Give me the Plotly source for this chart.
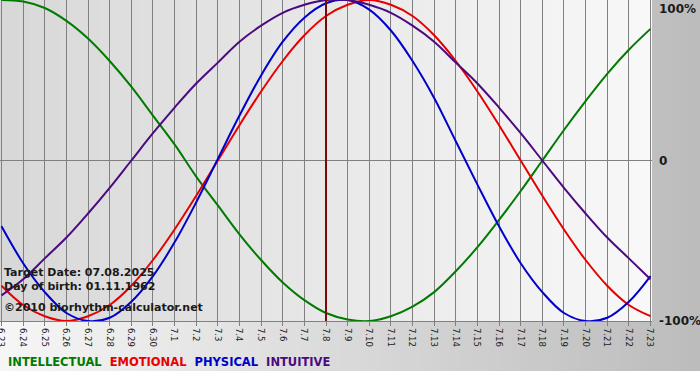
import plotly.graph_objects as go

# ---- data ----
day_labels = ['6.23', '6.24', '6.25', '6.26', '6.27', '6.28', '6.29', '6.30',
              '7.1', '7.2', '7.3', '7.4', '7.5', '7.6', '7.7', '7.8', '7.9',
              '7.10', '7.11', '7.12', '7.13', '7.14', '7.15', '7.16', '7.17',
              '7.18', '7.19', '7.20', '7.21', '7.22', '7.23']

intellectual = [1.00, 0.99, 0.95, 0.87, 0.76, 0.62, 0.46, 0.28, 0.10, -0.10,
                -0.28, -0.46, -0.62, -0.76, -0.87, -0.95, -0.99, -1.00, -0.97,
                -0.91, -0.82, -0.69, -0.54, -0.37, -0.19, 0.00, 0.19, 0.37,
                0.54, 0.69, 0.82]
emotional = [-0.78, -0.90, -0.97, -1.00, -0.97, -0.90, -0.78, -0.62, -0.43,
             -0.22, 0.00, 0.22, 0.43, 0.62, 0.78, 0.90, 0.97, 1.00, 0.97, 0.90,
             0.78, 0.62, 0.43, 0.22, 0.00, -0.22, -0.43, -0.62, -0.78, -0.90,
             -0.97]
physical = [-0.41, -0.64, -0.82, -0.95, -1.00, -0.98, -0.88, -0.72, -0.51,
            -0.26, 0.01, 0.28, 0.53, 0.74, 0.89, 0.98, 1.00, 0.94, 0.81, 0.62,
            0.39, 0.12, -0.15, -0.41, -0.64, -0.82, -0.95, -1.00, -0.98, -0.88,
            -0.72]
intuitive = [-0.84, -0.74, -0.61, -0.48, -0.33, -0.17, 0.00, 0.17, 0.33, 0.48,
             0.61, 0.74, 0.84, 0.92, 0.97, 1.00, 1.00, 0.97, 0.92, 0.84, 0.74,
             0.61, 0.48, 0.33, 0.17, 0.00, -0.17, -0.33, -0.48, -0.61, -0.74]

series_names = ['INTELLECTUAL', 'EMOTIONAL', 'PHYSICAL', 'INTUITIVE']
series_colors = ['#007a00', '#e60000', '#0000cc', '#4b0a7f']
series_values = [intellectual, emotional, physical, intuitive]

target_label = '7.8'
info_lines = ['Target Date: 07.08.2025', 'Day of birth: 01.11.1962',
              '©2010 biorhythm-calculator.net']
y_tick_vals = [1, 0, -1]
y_tick_text = ['100%', '0', '-100%']

# ---- geometry ----
W, H = 700, 380
ML, MR, MT, MB = 0, 48, 0, 59
PW = W - ML - MR
PH = H - MT - MB
x_idx = list(range(len(day_labels)))


def px_to_paper_x(px):
    return (px - ML) / PW


def py_to_paper_y(py):
    return (MT + PH - py) / PH


fig = go.Figure()
for name, color, vals in zip(series_names, series_colors, series_values):
    fig.add_trace(go.Scatter(x=x_idx, y=vals, mode='lines', name=name,
                             line=dict(color=color, width=2, shape='spline',
                                       smoothing=1.0),
                             cliponaxis=False, hoverinfo='skip'))

shapes = []
# outer background gradient (light left -> gray right)
n_out = 70
for i in range(n_out):
    x0 = i * W / n_out
    x1 = (i + 1) * W / n_out + 0.6
    t = i / (n_out - 1)
    c = int(round(246 - (246 - 188) * t))
    shapes.append(dict(type='rect', xref='paper', yref='paper',
                       x0=px_to_paper_x(x0), x1=px_to_paper_x(x1),
                       y0=py_to_paper_y(371), y1=py_to_paper_y(0),
                       fillcolor=f'rgb({c},{c},{c})', line=dict(width=0),
                       layer='below'))
# plot area gradient (gray left -> light right)
n_in = 65
for i in range(n_in):
    x0 = i * PW / n_in
    x1 = (i + 1) * PW / n_in + 0.6
    t = i / (n_in - 1)
    c = int(round(216 + (248 - 216) * t))
    shapes.append(dict(type='rect', xref='paper', yref='paper',
                       x0=px_to_paper_x(x0), x1=min(1.0, px_to_paper_x(x1)),
                       y0=0, y1=1,
                       fillcolor=f'rgb({c},{c},{c})', line=dict(width=0),
                       layer='below'))
# target date line
shapes.append(dict(type='line', xref='x', yref='paper',
                   x0=day_labels.index(target_label),
                   x1=day_labels.index(target_label),
                   y0=0, y1=1, line=dict(color='#7a0a0a', width=2),
                   layer='above'))

annotations = []
# info text inside plot
info_y = [272, 286, 307]
for txt, py in zip(info_lines, info_y):
    annotations.append(dict(text=f'<b>{txt}</b>', xref='paper', yref='paper',
                            x=px_to_paper_x(2), y=py_to_paper_y(py),
                            xanchor='left', yanchor='middle', showarrow=False,
                            font=dict(family='DejaVu Sans', size=11,
                                      color='#1a1a1a')))
# y-axis labels on the right
for v, txt in zip(y_tick_vals, y_tick_text):
    annotations.append(dict(text=f'<b>{txt}</b>', xref='paper', yref='y',
                            x=1, xshift=5, y=v, xanchor='left',
                            yanchor='top' if v == 1 else 'middle',
                            showarrow=False,
                            font=dict(family='DejaVu Sans', size=12,
                                      color='#1a1a1a')))
# legend row
legend_html = '  '.join(f'<span style="color:{c}">{n}</span>'
                        for n, c in zip(series_names, series_colors))
annotations.append(dict(text=f'<b>{legend_html}</b>', xref='paper',
                        yref='paper', x=px_to_paper_x(6), y=py_to_paper_y(362),
                        xanchor='left', yanchor='middle', showarrow=False,
                        font=dict(family='DejaVu Sans', size=11.5)))

fig.update_layout(
    width=W, height=H,
    margin=dict(l=ML, r=MR, t=MT, b=MB, pad=0, autoexpand=False),
    paper_bgcolor='white', plot_bgcolor='rgba(0,0,0,0)',
    showlegend=False,
    shapes=shapes, annotations=annotations,
    xaxis=dict(range=[-0.07, len(day_labels) - 1 + 0.07],
               tickmode='array', tickvals=x_idx, ticktext=day_labels,
               tickangle=90, ticks='outside', ticklen=4, tickcolor='#808080',
               tickfont=dict(family='DejaVu Sans Condensed, DejaVu Sans',
                             size=9.5, color='#202020'),
               ticklabeloverflow='allow',
               showgrid=True, gridcolor='#808080', gridwidth=1,
               showline=True, linecolor='#808080', linewidth=1, mirror=True,
               zeroline=False, fixedrange=True, automargin=False),
    yaxis=dict(range=[-1, 1], showticklabels=False, showgrid=False,
               zeroline=True, zerolinecolor='#808080', zerolinewidth=1,
               showline=False, ticks='', fixedrange=True, automargin=False),
)

fig.write_html('out.html', config={'displayModeBar': False},
               post_script="document.body.style.margin='0';"
                           "document.body.style.overflow='hidden';")
